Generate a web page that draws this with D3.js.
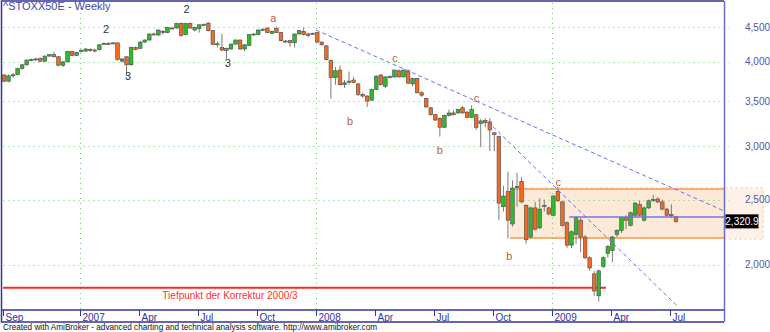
<!DOCTYPE html>
<html>
<head>
<meta charset="utf-8">
<script src="https://cdn.jsdelivr.net/npm/d3@7"></script>
<style>
  body { margin: 0; background: #fff; }
  svg { display: block; }
</style>
</head>
<body>
<div id="chart-container"></div>
<script>
// weekly bars, first bar = week of 4 Sep 2006
const opens = [3825,3745,3820,3830,3910,3960,4025,4032,4045,4010,4080,4100,4070,3955,4000,4145,4090,4150,4150,4170,
  4165,4170,4255,4260,4262,4268,4010,4070,3960,4200,4190,4280,4310,4400,4385,4440,4420,4490,4490,4560,
  4390,4560,4460,4480,4540,4565,4450,4250,4200,4190,4180,4250,4310,4180,4230,4390,4390,4465,4490,4410,
  4480,4420,4295,4300,4270,4400,4440,4400,4405,4420,4280,4225,4020,3790,3890,3700,3740,3760,3710,3580,
  3560,3510,3640,3825,3680,3800,3800,3880,3800,3880,3710,3780,3600,3530,3420,3340,3300,3200,3330,3360,
  3360,3420,3370,3310,3340,3240,3275,3260,3140,3100,2440,2570,2300,2605,2660,2450,2200,2430,2270,2445,
  2430,2370,2570,2480,2310,2140,2220,2330,2200,2050,1940,1800,1990,2080,2100,2220,2250,2350,2290,2370,
  2460,2330,2430,2495,2505,2480,2420,2375,2360]
const highs = [3835,3830,3850,3920,3970,4035,4045,4055,4060,4090,4110,4140,4080,4010,4155,4150,4140,4180,4195,4190,
  4185,4250,4275,4280,4275,4272,4050,4080,4210,4215,4290,4320,4405,4420,4465,4460,4505,4510,4570,4575,
  4570,4575,4510,4545,4560,4580,4460,4290,4400,4200,4260,4320,4320,4250,4395,4410,4465,4490,4500,4450,
  4510,4430,4310,4310,4405,4460,4500,4420,4420,4430,4290,4235,4030,3930,3950,3760,3870,3800,3720,3600,
  3570,3650,3820,3840,3810,3820,3895,3900,3900,3895,3790,3790,3620,3540,3430,3350,3310,3340,3400,3390,
  3410,3440,3380,3450,3350,3290,3300,3300,3150,3110,2620,2750,2670,2740,2700,2460,2440,2480,2510,2500,
  2440,2540,2610,2490,2320,2250,2360,2350,2215,2060,1960,1970,2060,2140,2210,2260,2360,2370,2400,2480,
  2490,2440,2500,2540,2520,2500,2430,2460,2365]
const lows = [3730,3730,3790,3820,3895,3950,4005,4015,4000,4000,4070,4060,3940,3930,3995,4080,4080,4130,4140,4140,
  4130,4160,4240,4245,4250,4020,3990,3810,3950,4160,4180,4270,4300,4380,4370,4390,4410,4470,4480,4360,
  4380,4480,4440,4420,4520,4440,4240,4200,4150,4040,4170,4240,4170,4150,4220,4370,4380,4450,4410,4400,
  4410,4290,4270,4210,4200,4390,4380,4350,4395,4270,4230,4020,3530,3700,3690,3660,3700,3720,3560,3540,
  3430,3500,3630,3690,3660,3780,3790,3790,3790,3710,3680,3590,3550,3420,3330,3270,3100,3190,3320,3330,
  3350,3350,3300,3300,3170,2990,3200,2950,2950,2330,2400,2190,2280,2440,2470,2150,2190,2250,2260,2400,
  2370,2360,2480,2280,2120,2120,2150,2090,2040,1960,1800,1765,1980,2050,2020,2200,2230,2260,2280,2360,
  2360,2320,2420,2480,2470,2410,2360,2350,2310]
const closes = [3745,3815,3828,3910,3960,4025,4032,4040,4010,4080,4100,4070,3955,4000,4145,4090,4130,4160,4180,4172,
  4160,4240,4262,4258,4268,4030,4040,3960,4200,4175,4280,4310,4400,4390,4460,4432,4500,4485,4560,4380,
  4560,4490,4500,4540,4545,4450,4245,4255,4165,4160,4250,4310,4180,4240,4390,4400,4460,4470,4420,4440,
  4420,4300,4290,4270,4400,4450,4390,4380,4410,4280,4240,4030,3790,3880,3700,3725,3745,3730,3580,3560,
  3500,3640,3810,3700,3800,3805,3890,3800,3890,3720,3780,3600,3570,3430,3340,3280,3200,3330,3360,3340,
  3400,3360,3310,3400,3200,3270,3250,3170,3120,2470,2530,2330,2600,2615,2480,2180,2430,2260,2420,2450,
  2380,2530,2490,2290,2140,2240,2350,2200,2050,1980,1830,1960,2050,2130,2200,2250,2350,2330,2390,2470,
  2370,2430,2490,2500,2480,2420,2370,2368,2320.9]

// x axis: bar index of first bar of the month, labels
const xTickBars = [0, 17, 30, 43, 56, 69, 82, 95, 108, 121, 134, 147]
const xTickLabels = ['Sep', '2007', 'Apr', 'Jul', 'Oct', '2008', 'Apr', 'Jul', 'Oct', '2009', 'Apr', 'Jul']
const yearBars = [17, 69, 121]
const yTicks = [2000, 2500, 3000, 3500, 4000, 4500]

// drawn studies: [bar, price]
const trendLines = [
  [[68.7, 4460], [158.6, 2405]],
  [[106.6, 3260], [148.5, 1733]],
]
const rangeBox = { startBar: 111.5, top: 2592, bottom: 2193 }
const hLine = { startBar: 124.5, price: 2355 }
const lowLine = { startBar: -0.2, endBar: 132.6, price: 1850 }
const lowLabel = 'Tiefpunkt der Korrektur 2000/3'

const waveLabels = [
  { t: '2', bar: 22.5, p: 4468, kind: 'num' },
  { t: '2', bar: 40.2, p: 4796, kind: 'num' },
  { t: '3', bar: 27.3, p: 3815, kind: 'num' },
  { t: '3', bar: 49.3, p: 3978, kind: 'num' },
  { t: 'a', bar: 59.3, p: 4646, kind: 'abc' },
  { t: 'b', bar: 76.2, p: 3264, kind: 'abc' },
  { t: 'c', bar: 86.1, p: 4047, kind: 'abc' },
  { t: 'b', bar: 96, p: 2961, kind: 'abc' },
  { t: 'c', bar: 104.1, p: 3536, kind: 'abc' },
  { t: 'b', bar: 111.3, p: 2062, kind: 'abc' },
  { t: 'c', bar: 122.1, p: 2650, kind: 'abc' },
]

const width = 770
const height = 332
const plotLeft = 1.5
const plotRight = 724
const plotTop = 1
const plotBottom = 310
const axisBottom = 322
const font = '"Liberation Sans", Arial, sans-serif'
const navy = '#33339a'
const gridColor = '#66d466'

const data = closes.map((c, i) => ({
  i,
  open: opens[i],
  high: highs[i],
  low: lows[i],
  close: c,
}))

const x = d3.scaleLinear().domain([-0.5, 158.5]).range([1.73, 723.6])
const y = d3.scaleLog().domain([1715, 4924]).range([plotBottom, plotTop])

const svg = d3
  .select('#chart-container')
  .append('svg')
  .attr('width', width)
  .attr('height', height)
  .attr('viewBox', `0 0 ${width} ${height}`)
  .style('background', '#fff')

// range box (behind everything)
const boxG = svg.append('g')
const boxTop = y(rangeBox.top)
const boxBottom = y(rangeBox.bottom)
boxG
  .append('rect')
  .attr('x', x(rangeBox.startBar))
  .attr('y', boxTop)
  .attr('width', plotRight - x(rangeBox.startBar))
  .attr('height', boxBottom - boxTop)
  .attr('fill', '#fde9d8')
boxG
  .append('rect')
  .attr('x', plotRight)
  .attr('y', boxTop)
  .attr('width', 763 - plotRight)
  .attr('height', boxBottom - boxTop)
  .attr('fill', '#fef2e8')
boxG
  .append('path')
  .attr('d', `M${x(rangeBox.startBar)},${boxTop - 1}H763V${boxBottom + 1}H${plotRight}`)
  .attr('fill', 'none')
  .attr('stroke', '#f9c79c')
  .attr('stroke-dasharray', '3,2')
boxG
  .selectAll('line')
  .data([boxTop, boxBottom])
  .join('line')
  .attr('x1', x(rangeBox.startBar))
  .attr('x2', plotRight)
  .attr('y1', d => d)
  .attr('y2', d => d)
  .attr('stroke', '#f8ae72')
  .attr('stroke-width', 2)

// grid
const grid = svg
  .append('g')
  .attr('stroke', gridColor)
  .attr('stroke-dasharray', '1,4')
grid
  .selectAll('.hg')
  .data(yTicks)
  .join('line')
  .attr('x1', plotLeft + 2)
  .attr('x2', plotRight + 5)
  .attr('y1', d => Math.round(y(d)) + 0.5)
  .attr('y2', d => Math.round(y(d)) + 0.5)
grid
  .selectAll('.vg')
  .data(yearBars)
  .join('line')
  .attr('x1', d => Math.round(x(d)) - 0.5)
  .attr('x2', d => Math.round(x(d)) - 0.5)
  .attr('y1', plotTop + 2)
  .attr('y2', plotBottom)

// low line + label
svg
  .append('line')
  .attr('x1', x(lowLine.startBar))
  .attr('x2', x(lowLine.endBar))
  .attr('y1', y(lowLine.price))
  .attr('y2', y(lowLine.price))
  .attr('stroke', '#ff2626')
  .attr('stroke-width', 2)
svg
  .append('text')
  .attr('x', 230)
  .attr('y', y(lowLine.price) + 11)
  .attr('text-anchor', 'middle')
  .attr('font-family', font)
  .attr('font-size', 10)
  .attr('fill', '#ff3030')
  .text(lowLabel)

// candles
const candles = svg.append('g')
candles
  .selectAll('line')
  .data(data)
  .join('line')
  .attr('x1', d => x(d.i))
  .attr('x2', d => x(d.i))
  .attr('y1', d => y(d.high))
  .attr('y2', d => y(d.low))
  .attr('stroke', '#7a7a7a')
  .attr('stroke-width', 1)
candles
  .selectAll('rect')
  .data(data)
  .join('rect')
  .attr('x', d => x(d.i) - 1.8)
  .attr('width', 3.6)
  .attr('y', d => y(Math.max(d.open, d.close)))
  .attr('height', d =>
    Math.max(1, Math.abs(y(d.open) - y(d.close))),
  )
  .attr('fill', d => (d.close >= d.open ? '#2dbb2d' : '#f46a1f'))
  .attr('stroke', '#4a4a4a')
  .attr('stroke-width', 0.6)

// horizontal blue line
svg
  .append('line')
  .attr('x1', x(hLine.startBar))
  .attr('x2', plotRight)
  .attr('y1', y(hLine.price))
  .attr('y2', y(hLine.price))
  .attr('stroke', '#7474e8')
  .attr('stroke-width', 1.5)

// trend lines
svg
  .append('g')
  .selectAll('path')
  .data(trendLines)
  .join('path')
  .attr('d', d => d3.line().x(p => x(p[0])).y(p => y(p[1]))(d))
  .attr('fill', 'none')
  .attr('stroke', '#6c6cf2')
  .attr('stroke-width', 1)
  .attr('stroke-dasharray', '4,3')

// wave labels
svg
  .append('g')
  .attr('font-family', font)
  .attr('font-size', 11)
  .attr('text-anchor', 'middle')
  .selectAll('text')
  .data(waveLabels)
  .join('text')
  .attr('x', d => x(d.bar))
  .attr('y', d => y(d.p))
  .attr('dy', '0.36em')
  .attr('fill', d => (d.kind === 'num' ? '#333' : '#c55a3e'))
  .text(d => d.t)

// frame
const frame = svg.append('g').attr('fill', 'none')
frame
  .append('path')
  .attr('d', `M${plotRight},${plotTop}H${plotLeft}V${axisBottom}H${plotRight}`)
  .attr('stroke', navy)
  .attr('stroke-width', 1.5)
frame
  .append('line')
  .attr('x1', plotLeft)
  .attr('x2', plotRight)
  .attr('y1', plotBottom)
  .attr('y2', plotBottom)
  .attr('stroke', navy)
  .attr('stroke-width', 1.5)
frame
  .append('line')
  .attr('x1', plotRight + 0.5)
  .attr('x2', plotRight + 0.5)
  .attr('y1', plotTop)
  .attr('y2', axisBottom)
  .attr('stroke', '#6b6bcc')
  .attr('stroke-width', 1.5)

// x axis
const xAxis = svg
  .append('g')
  .attr('font-family', font)
  .attr('font-size', 10)
  .attr('fill', navy)
const xTicks = xAxis
  .selectAll('g')
  .data(xTickBars)
  .join('g')
  .attr('transform', d => `translate(${Math.round(x(d)) - 0.5},0)`)
xTicks
  .append('line')
  .attr('y1', plotBottom)
  .attr('y2', plotBottom + 6)
  .attr('stroke', navy)
xTicks
  .append('text')
  .attr('x', 2)
  .attr('y', plotBottom + 11)
  .text((d, k) => xTickLabels[k])

// y axis
svg
  .append('g')
  .attr('font-family', font)
  .attr('font-size', 10)
  .attr('fill', '#5252a8')
  .selectAll('text')
  .data(yTicks)
  .join('text')
  .attr('x', 745)
  .attr('y', d => y(d))
  .attr('dy', '0.35em')
  .text(d => d3.format(',')(d))

// last value tag
const last = data[data.length - 1]
svg
  .append('rect')
  .attr('x', 725.5)
  .attr('y', y(last.close) - 7)
  .attr('width', 33)
  .attr('height', 14)
  .attr('fill', '#000')
svg
  .append('text')
  .attr('x', 742)
  .attr('y', y(last.close))
  .attr('dy', '0.35em')
  .attr('text-anchor', 'middle')
  .attr('font-family', font)
  .attr('font-size', 10)
  .attr('fill', '#fff')
  .text(d3.format(',.1f')(last.close))

// title + footer
svg
  .append('text')
  .attr('x', 3)
  .attr('y', 10)
  .attr('font-family', font)
  .attr('font-size', 11)
  .attr('fill', '#4646a6')
  .text('^STOXX50E - Weekly')
svg
  .append('text')
  .attr('x', 3)
  .attr('y', 330)
  .attr('font-family', font)
  .attr('font-size', 8.2)
  .attr('fill', '#111')
  .text(
    'Created with AmiBroker - advanced charting and technical analysis software. http://www.amibroker.com',
  )
</script>
</body>
</html>
